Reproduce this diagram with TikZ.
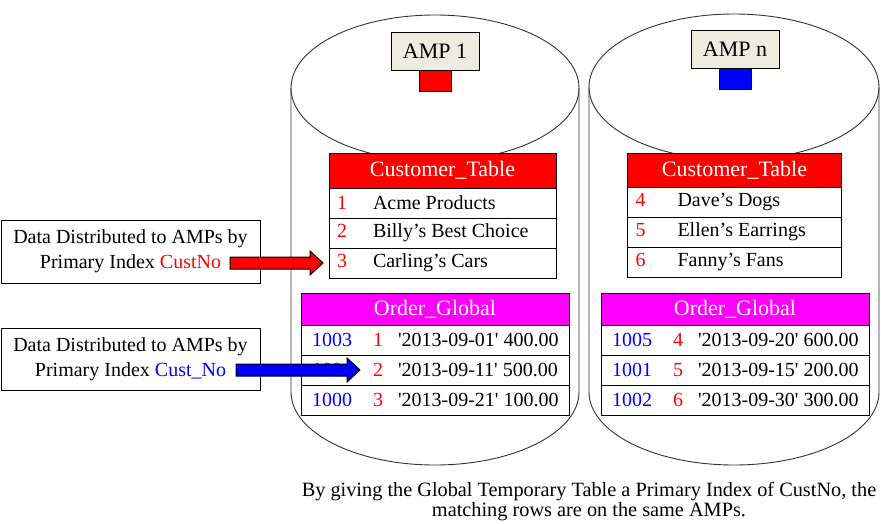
\documentclass[tikz,border=0pt]{standalone}
\usepackage{fontspec}
\setmainfont{Liberation Serif}[Ligatures=TeXOff]
\usetikzlibrary{positioning,calc}
\definecolor{ampgrey}{HTML}{EEECE1}
\definecolor{ordmagenta}{HTML}{FF00FF}

% row contents: width, number column, number, name
\newcommand{\crow}[4]{\makebox[#1][l]{\hspace{8pt}\makebox[#2][l]{\textcolor{red}{#3}}#4}}
% order rows: order no, cust no, date, amount
\newcommand{\orow}[4]{\makebox[268pt][l]{\hspace{11pt}\makebox[61pt][l]{\textcolor{blue}{#1}}\makebox[25pt][l]{\textcolor{red}{#2}}'#3' #4}}
% block arrow from tail to tip (same height)
\newcommand{\fatarrow}[3]{%
  \draw[arrowline, fill=#3] ($(#1)+(0,-6)$) -- ($(#2)+(-13,-6)$) -- ($(#2)+(-13,-12)$) -- (#2)
    -- ($(#2)+(-13,12)$) -- ($(#2)+(-13,6)$) -- ($(#1)+(0,6)$) -- cycle;}

\begin{document}
\begin{tikzpicture}[x=1pt, y=-1pt,
  disk/.style={line width=0.9pt, black!80},
  ampbox/.style={draw, fill=ampgrey, minimum width=88pt, minimum height=38pt, inner sep=0pt, outer sep=0pt, line width=1pt, font=\fontsize{22}{24}\selectfont},
  vproc/.style={draw, minimum width=32pt, minimum height=21pt, inner sep=0pt, outer sep=0pt, line width=1pt},
  tblhead/.style={draw, text=white, inner sep=0pt, outer sep=0pt, line width=1pt, font=\fontsize{22}{24}\selectfont},
  tblrow/.style={draw, fill=white, inner sep=0pt, outer sep=0pt, minimum height=30pt, line width=1pt, font=\fontsize{20}{24}\selectfont},
  note/.style={draw, fill=white, align=center, minimum width=259pt, inner sep=0pt, outer sep=0pt, line width=1pt, font=\fontsize{20}{25}\selectfont},
  arrowline/.style={draw=black, line width=1pt, line join=miter}]
  \useasboundingbox (0,0) rectangle (881,523);

  %% Left: AMP 1
  \draw[disk] (435,88) ellipse [x radius=144, y radius=73];
  \draw[disk] (291,88) -- (291,392) arc[start angle=180, end angle=0, x radius=144, y radius=73] -- (579,88);
  \node[ampbox] (amp1) at (435,51) {AMP 1};
  \node[vproc, fill=red, below=0pt of amp1] (vp1) {};
  \node[tblhead, fill=red, minimum width=227pt, minimum height=35pt] (cust1) at (442.5,170.5) {Customer\_Table};
  \node[tblrow, below=0pt of cust1] (cust1a) {\crow{227pt}{36pt}{1}{Acme Products}};
  \node[tblrow, below=0pt of cust1a] (cust1b) {\crow{227pt}{36pt}{2}{Billy’s Best Choice}};
  \node[tblrow, below=0pt of cust1b] (cust1c) {\crow{227pt}{36pt}{3}{Carling’s Cars}};
  \node[tblhead, fill=ordmagenta, minimum width=268pt, minimum height=32pt] (ord1) at (435,309) {Order\_Global};
  \node[tblrow, below=0pt of ord1] (ord1a) {\orow{1003}{1}{2013-09-01}{400.00}};
  \node[tblrow, below=0pt of ord1a] (ord1b) {\orow{1004}{2}{2013-09-11}{500.00}};
  \node[tblrow, below=0pt of ord1b] (ord1c) {\orow{1000}{3}{2013-09-21}{100.00}};

  %% Right: AMP n
  \draw[disk] (734,87) ellipse [x radius=145, y radius=73];
  \draw[disk] (589,87) -- (589,392) arc[start angle=180, end angle=0, x radius=145, y radius=73] -- (879,87);
  \node[ampbox] (ampn) at (735,49) {AMP n};
  \node[vproc, fill=blue, below=0pt of ampn] (vpn) {};
  \node[tblhead, fill=red, minimum width=214pt, minimum height=34pt] (custn) at (734.5,170) {Customer\_Table};
  \node[tblrow, below=0pt of custn] (custna) {\crow{214pt}{42pt}{4}{Dave’s Dogs}};
  \node[tblrow, below=0pt of custna] (custnb) {\crow{214pt}{42pt}{5}{Ellen’s Earrings}};
  \node[tblrow, below=0pt of custnb] (custnc) {\crow{214pt}{42pt}{6}{Fanny’s Fans}};
  \node[tblhead, fill=ordmagenta, minimum width=268pt, minimum height=32pt] (ordn) at (735,309) {Order\_Global};
  \node[tblrow, below=0pt of ordn] (ordna) {\orow{1005}{4}{2013-09-20}{600.00}};
  \node[tblrow, below=0pt of ordna] (ordnb) {\orow{1001}{5}{2013-09-15}{200.00}};
  \node[tblrow, below=0pt of ordnb] (ordnc) {\orow{1002}{6}{2013-09-30}{300.00}};

  %% Notes and arrows
  \node[note, minimum height=63pt] (note1) at (130.5,251.5) {Data Distributed to AMPs by\\Primary Index \textcolor{red}{CustNo}};
  \node[note, minimum height=62pt] (note2) at (130.5,359) {Data Distributed to AMPs by\\Primary Index \textcolor{blue}{Cust\_No}};
  \coordinate (tip1) at ($(cust1c.west)+(-6,0)$);
  \coordinate (tail1) at ($(tip1 -| note1.east)+(-30,0)$);
  \coordinate (tip2) at ($(ord1b.west)+(59,0)$);
  \coordinate (tail2) at ($(tip2 -| note2.east)+(-24,0)$);
  \fatarrow{tail1}{tip1}{red}
  \fatarrow{tail2}{tip2}{blue}

  \node[align=center, font=\fontsize{20.3}{20}\selectfont] (caption) at (589,502)
    {By giving the Global Temporary Table a Primary Index of CustNo, the\\matching rows are on the same AMPs.};
\end{tikzpicture}
\end{document}
